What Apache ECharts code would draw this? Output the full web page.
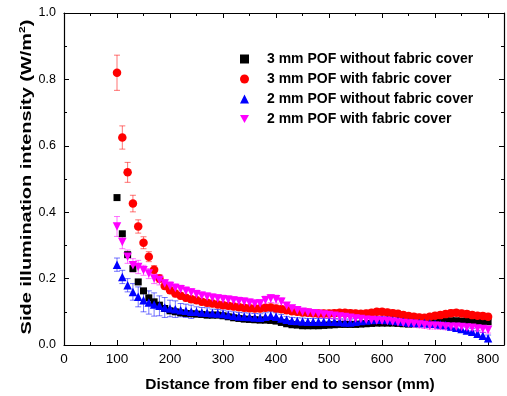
<!DOCTYPE html>
<html>
<head>
<meta charset="utf-8">
<script src="https://cdn.jsdelivr.net/npm/echarts@6/dist/echarts.min.js"></script>
<style>
  html, body { margin: 0; padding: 0; background: #fff; }
  #chart { width: 507px; height: 396px; }
</style>
</head>
<body>
<div id="chart"></div>
<script>
// distance from fiber end (mm): 100..800 every 10 mm
const distance = [100,110,120,130,140,150,160,170,180,190,200,210,220,230,240,250,260,270,280,290,300,310,320,330,340,350,360,370,380,390,400,410,420,430,440,450,460,470,480,490,500,510,520,530,540,550,560,570,580,590,600,610,620,630,640,650,660,670,680,690,700,710,720,730,740,750,760,770,780,790,800]

const pof3NoCover = [0.444,0.335,0.272,0.23,0.19,0.163,0.142,0.13,0.12,0.11,0.103,0.1,0.097,0.095,0.094,0.093,0.092,0.09,0.09,0.09,0.088,0.085,0.082,0.08,0.078,0.077,0.076,0.075,0.075,0.074,0.072,0.068,0.064,0.061,0.06,0.058,0.058,0.058,0.058,0.059,0.06,0.061,0.062,0.062,0.062,0.062,0.063,0.064,0.065,0.066,0.066,0.066,0.066,0.065,0.064,0.063,0.064,0.066,0.068,0.07,0.071,0.072,0.072,0.073,0.073,0.072,0.072,0.071,0.07,0.07,0.07]
const pof3Cover = [0.82,0.625,0.52,0.426,0.357,0.308,0.266,0.227,0.2,0.178,0.165,0.155,0.148,0.142,0.138,0.135,0.13,0.127,0.125,0.122,0.12,0.118,0.116,0.114,0.112,0.111,0.11,0.11,0.112,0.113,0.11,0.108,0.105,0.102,0.1,0.098,0.097,0.096,0.095,0.095,0.095,0.096,0.097,0.097,0.096,0.095,0.094,0.095,0.097,0.1,0.1,0.098,0.096,0.094,0.09,0.087,0.085,0.083,0.082,0.085,0.088,0.09,0.093,0.096,0.097,0.095,0.093,0.09,0.088,0.087,0.085]
const pof2NoCover = [0.242,0.205,0.18,0.16,0.145,0.135,0.128,0.122,0.118,0.113,0.11,0.108,0.105,0.103,0.1,0.1,0.098,0.097,0.096,0.095,0.093,0.09,0.088,0.086,0.085,0.084,0.083,0.082,0.085,0.088,0.085,0.08,0.076,0.073,0.072,0.071,0.07,0.07,0.07,0.07,0.07,0.07,0.069,0.068,0.068,0.07,0.072,0.074,0.075,0.076,0.076,0.075,0.074,0.072,0.07,0.068,0.067,0.066,0.066,0.065,0.064,0.062,0.06,0.056,0.052,0.048,0.044,0.04,0.034,0.028,0.02]
const pof2Cover = [0.357,0.31,0.266,0.24,0.235,0.225,0.215,0.2,0.196,0.185,0.178,0.172,0.168,0.163,0.158,0.153,0.148,0.145,0.142,0.14,0.138,0.136,0.134,0.132,0.13,0.127,0.124,0.125,0.135,0.14,0.138,0.13,0.118,0.11,0.105,0.1,0.098,0.096,0.094,0.092,0.09,0.088,0.086,0.084,0.082,0.08,0.078,0.076,0.075,0.074,0.073,0.072,0.07,0.068,0.066,0.065,0.064,0.062,0.06,0.058,0.058,0.057,0.056,0.055,0.055,0.054,0.053,0.052,0.05,0.048,0.046]

// error bar half-lengths
const err3NoCover = [0.006,0.006,0.005,0.005,0.005,0.005,0.005,0.005,0.005,0.005,0.005,0.005,0.005,0.005,0.005,0.005,0.005,0.005,0.005,0.005,0.005,0.005,0.005,0.005,0.005,0.005,0.005,0.005,0.005,0.005,0.005,0.005,0.005,0.005,0.005,0.005,0.005,0.005,0.005,0.005,0.005,0.005,0.005,0.005,0.005,0.005,0.005,0.005,0.005,0.005,0.005,0.005,0.005,0.005,0.005,0.005,0.005,0.005,0.005,0.005,0.005,0.005,0.005,0.005,0.005,0.005,0.005,0.005,0.005,0.005,0.005]
const err3Cover = [0.053,0.035,0.03,0.025,0.02,0.018,0.015,0.012,0.012,0.01,0.01,0.01,0.01,0.01,0.01,0.01,0.01,0.01,0.01,0.01,0.01,0.01,0.01,0.01,0.01,0.01,0.01,0.01,0.01,0.01,0.01,0.01,0.01,0.01,0.01,0.01,0.01,0.01,0.01,0.01,0.01,0.01,0.01,0.01,0.01,0.01,0.01,0.01,0.01,0.01,0.01,0.01,0.01,0.01,0.01,0.01,0.01,0.01,0.01,0.01,0.01,0.01,0.01,0.01,0.01,0.01,0.01,0.01,0.01,0.01,0.01]
const err2NoCover = [0.02,0.02,0.02,0.025,0.03,0.035,0.035,0.035,0.03,0.03,0.025,0.025,0.02,0.02,0.02,0.015,0.015,0.015,0.012,0.012,0.012,0.012,0.012,0.012,0.012,0.012,0.012,0.012,0.012,0.012,0.012,0.012,0.01,0.01,0.01,0.01,0.01,0.01,0.01,0.01,0.01,0.01,0.01,0.01,0.01,0.01,0.01,0.01,0.01,0.01,0.01,0.01,0.01,0.01,0.01,0.01,0.01,0.01,0.01,0.01,0.01,0.01,0.01,0.01,0.01,0.01,0.01,0.01,0.01,0.01,0.01]
const err2Cover = [0.03,0.02,0.02,0.02,0.02,0.015,0.015,0.015,0.015,0.012,0.012,0.012,0.012,0.012,0.012,0.012,0.012,0.012,0.012,0.012,0.012,0.012,0.012,0.012,0.012,0.012,0.012,0.012,0.012,0.012,0.012,0.012,0.01,0.01,0.01,0.01,0.01,0.01,0.01,0.01,0.01,0.01,0.01,0.01,0.01,0.01,0.01,0.01,0.01,0.01,0.01,0.01,0.01,0.01,0.01,0.01,0.01,0.01,0.01,0.01,0.01,0.01,0.01,0.01,0.01,0.01,0.01,0.01,0.01,0.01,0.01]

const seriesNames = [
  '3 mm POF without fabric cover',
  '3 mm POF with fabric cover',
  '2 mm POF without fabric cover',
  '2 mm POF with fabric cover'
]
const xTicks = [0,100,200,300,400,500,600,700,800]

const FONT = '"Liberation Sans", Arial, sans-serif'
const downTri = 'path://M0,0L10,0L5,9Z'

const defs = [
  { name: seriesNames[0], vals: pof3NoCover, err: err3NoCover, color: '#000000', bar: 'rgba(0,0,0,0.55)', symbol: 'rect', size: 7 },
  { name: seriesNames[1], vals: pof3Cover, err: err3Cover, color: '#ff0000', bar: 'rgba(255,0,0,0.55)', symbol: 'circle', size: 8.5 },
  { name: seriesNames[2], vals: pof2NoCover, err: err2NoCover, color: '#0000ff', bar: 'rgba(0,0,255,0.55)', symbol: 'triangle', size: 8.5 },
  { name: seriesNames[3], vals: pof2Cover, err: err2Cover, color: '#ff00ff', bar: 'rgba(255,0,255,0.55)', symbol: downTri, size: 8.5 }
]

const errorBar = (color) => (params, api) => {
  const x = api.value(0)
  const lo = api.coord([x, api.value(1) - api.value(2)])
  const hi = api.coord([x, api.value(1) + api.value(2)])
  const w = 3
  const style = { stroke: color, lineWidth: 1 }
  return {
    type: 'group',
    children: [
      { type: 'line', shape: { x1: lo[0], y1: lo[1], x2: hi[0], y2: hi[1] }, style },
      { type: 'line', shape: { x1: lo[0] - w, y1: lo[1], x2: lo[0] + w, y2: lo[1] }, style },
      { type: 'line', shape: { x1: hi[0] - w, y1: hi[1], x2: hi[0] + w, y2: hi[1] }, style }
    ]
  }
}

const series = []
defs.forEach(d => {
  series.push({
    type: 'custom',
    name: d.name + ' err',
    renderItem: errorBar(d.bar),
    data: distance.map((x, i) => [x, d.vals[i], d.err[i]]),
    silent: true,
    z: 1
  })
})
defs.forEach(d => {
  series.push({
    type: 'scatter',
    name: d.name,
    symbol: d.symbol,
    symbolSize: d.size,
    itemStyle: { color: d.color, opacity: 1 },
    data: distance.map((x, i) => [x, d.vals[i]]),
    z: 3
  })
})

const tickStyle = { show: true, inside: true, length: 5, lineStyle: { color: '#000', width: 1 } }
const minorStyle = { show: true, splitNumber: 2, length: 3, lineStyle: { color: '#000', width: 1 } }

const chart = echarts.init(document.getElementById('chart'), null, { renderer: 'canvas' })
chart.setOption({
  animation: false,
  backgroundColor: '#fff',
  textStyle: { fontFamily: FONT },
  grid: { left: 64, right: 3, top: 13, bottom: 51, outerBoundsMode: 'none' },
  legend: {
    orient: 'vertical',
    left: 240,
    top: 51,
    padding: 0,
    itemWidth: 9,
    itemHeight: 9,
    itemGap: 4,
    data: defs.map(d => ({ name: d.name, icon: d.symbol })),
    textStyle: { fontFamily: FONT, fontWeight: 'bold', fontSize: 14, color: '#000', lineHeight: 16, padding: [0, 0, 0, 13] }
  },
  graphic: [{
    type: 'text',
    x: 27,
    y: 177,
    rotation: Math.PI / 2,
    scaleX: 1.33,
    silent: true,
    style: {
      text: '{t|Side illumination intensity (W/m}{s|2}{t|)}',
      align: 'center',
      verticalAlign: 'middle',
      rich: {
        t: { fontFamily: FONT, fontWeight: 'bold', fontSize: 15, fill: '#000', lineHeight: 17 },
        s: { fontFamily: FONT, fontWeight: 'bold', fontSize: 9, fill: '#000', verticalAlign: 'top', lineHeight: 17 }
      }
    }
  }],
  xAxis: [{
    type: 'value',
    min: 0,
    max: 830,
    interval: 100,
    name: 'Distance from fiber end to sensor (mm)',
    nameLocation: 'middle',
    nameGap: 32,
    nameTextStyle: { fontFamily: FONT, fontWeight: 'bold', fontSize: 15.5, color: '#000', padding: [0, 0, 0, 12] },
    axisLine: { lineStyle: { color: '#000', width: 1.2 } },
    axisTick: tickStyle,
    minorTick: minorStyle,
    splitLine: { show: false },
    axisLabel: {
      color: '#000', fontSize: 13.5, margin: 7, fontFamily: FONT,
      formatter: v => xTicks.includes(v) ? String(v) : ''
    }
  }, {
    type: 'value',
    position: 'top',
    min: 0,
    max: 830,
    interval: 100,
    axisLine: { show: true, onZero: false, lineStyle: { color: '#000', width: 1.2 } },
    axisTick: tickStyle,
    minorTick: minorStyle,
    splitLine: { show: false },
    axisLabel: { show: false }
  }],
  yAxis: [{
    type: 'value',
    min: 0,
    max: 1,
    interval: 0.2,
    axisLine: { show: true, lineStyle: { color: '#000', width: 1.2 } },
    axisTick: tickStyle,
    minorTick: minorStyle,
    splitLine: { show: false },
    axisLabel: { color: '#000', fontSize: 12.5, margin: 8, fontFamily: FONT, formatter: v => v.toFixed(1) }
  }, {
    type: 'value',
    position: 'right',
    min: 0,
    max: 1,
    interval: 0.2,
    axisLine: { show: true, onZero: false, lineStyle: { color: '#000', width: 1.2 } },
    axisTick: tickStyle,
    minorTick: minorStyle,
    splitLine: { show: false },
    axisLabel: { show: false }
  }],
  series
})
</script>
</body>
</html>
